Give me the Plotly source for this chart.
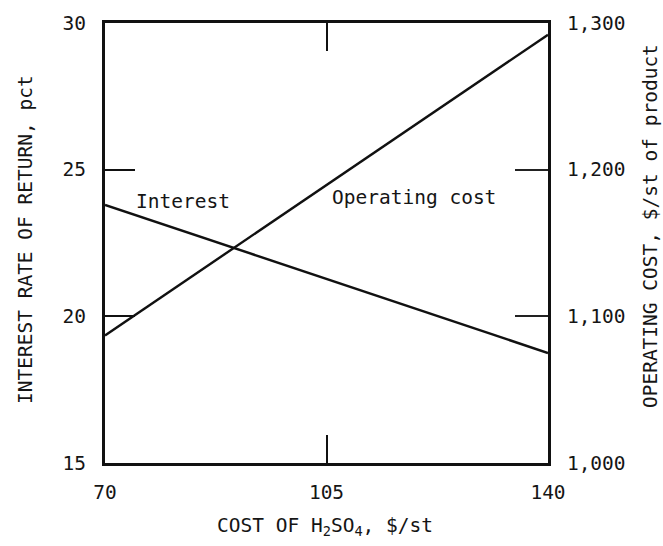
import plotly.graph_objects as go

# ---- data ----
cost_h2so4 = [70, 140]                 # $/st
interest_rate = [23.8, 18.75]          # pct
operating_cost = [1087, 1292]          # $/st of product

x_ticks = [70, 105, 140]
y_ticks = [15, 20, 25, 30]
y2_ticks = [1000, 1100, 1200, 1300]
y2_ticktext = ["1,000", "1,100", "1,200", "1,300"]

# ---- layout constants ----
W, H = 663, 546
L, R, T, B = 105, 115, 21, 83
FONT = "DejaVu Sans Mono"
FS = 19.5
TXT = "#151515"

fig = go.Figure()
fig.add_trace(go.Scatter(x=cost_h2so4, y=interest_rate, mode="lines",
                         line=dict(color="#111", width=2.4), yaxis="y",
                         showlegend=False, hoverinfo="skip"))
fig.add_trace(go.Scatter(x=cost_h2so4, y=operating_cost, mode="lines",
                         line=dict(color="#111", width=2.4), yaxis="y2",
                         showlegend=False, hoverinfo="skip"))

pw = W - L - R
ph = H - T - B

def px_to_paper_x(px):
    return (px - L) / pw

def px_to_paper_y(py):
    return 1 - (py - T) / ph

fig.update_layout(
    width=W, height=H,
    margin=dict(l=L, r=R, t=T, b=B, pad=0),
    paper_bgcolor="white", plot_bgcolor="white",
    font=dict(family=FONT, size=FS, color=TXT),
    xaxis=dict(range=[70, 140], tickvals=x_ticks, ticktext=[str(v) for v in x_ticks],
               showgrid=False, zeroline=False, showline=True, linecolor="#111",
               linewidth=2.6, mirror="ticks", ticks="inside", ticklen=28,
               tickwidth=2.4, tickcolor="#111", ticklabelstandoff=10),
    yaxis=dict(range=[15, 30], tickvals=y_ticks, ticktext=[str(v) for v in y_ticks],
               showgrid=False, zeroline=False, showline=True, linecolor="#111",
               linewidth=3, ticks="inside", ticklen=30, tickwidth=2.4,
               tickcolor="#111", ticklabelstandoff=12),
    yaxis2=dict(range=[1000, 1300], tickvals=y2_ticks, ticktext=y2_ticktext,
                overlaying="y", side="right", showgrid=False, zeroline=False,
                showline=True, linecolor="#111", linewidth=3, ticks="inside",
                ticklen=33, tickwidth=1.6, tickcolor="#222", ticklabelstandoff=12),
    annotations=[
        dict(text="Interest", x=px_to_paper_x(183), y=px_to_paper_y(200),
             xref="paper", yref="paper", showarrow=False,
             xanchor="center", yanchor="middle"),
        dict(text="Operating cost", x=px_to_paper_x(414), y=px_to_paper_y(196),
             xref="paper", yref="paper", showarrow=False,
             xanchor="center", yanchor="middle"),
        dict(text="INTEREST RATE OF RETURN, pct", x=px_to_paper_x(25),
             y=px_to_paper_y(239), xref="paper", yref="paper", showarrow=False,
             textangle=-90, xanchor="center", yanchor="middle"),
        dict(text="OPERATING COST, $/st of product", x=px_to_paper_x(650),
             y=px_to_paper_y(225), xref="paper", yref="paper", showarrow=False,
             textangle=-90, xanchor="center", yanchor="middle"),
        dict(text="COST OF H<sub>2</sub>SO<sub>4</sub>, $/st", x=px_to_paper_x(325),
             y=px_to_paper_y(527), xref="paper", yref="paper", showarrow=False,
             xanchor="center", yanchor="middle"),
    ],
)

fig.write_html("out.html")
